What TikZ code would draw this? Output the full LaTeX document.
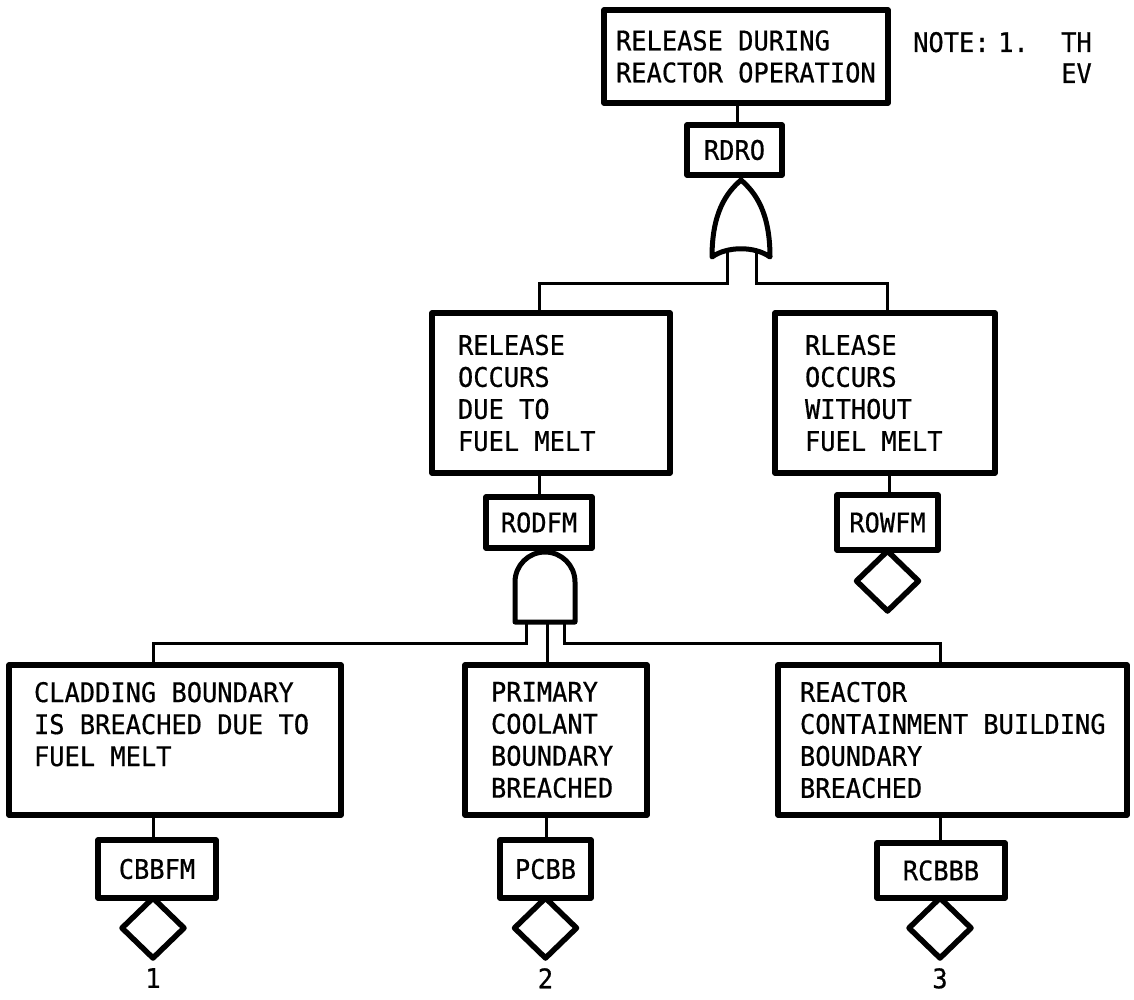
\documentclass[tikz,border=0pt]{standalone}
\usepackage{fontspec}
\usetikzlibrary{shapes.geometric}
\newfontfamily\ftfont[FakeStretch=0.94,FakeBold=0.6]{DejaVu Sans Mono}
\newcommand{\ftlabel}{\ftfont\fontsize{27}{32}\selectfont}
\newcommand{\mspc}{\kern15.3pt\relax}
\begin{document}
\begin{tikzpicture}[x=1pt,y=-1pt,
  evbox/.style={draw, line width=5.5pt, rectangle, outer sep=0pt, inner ysep=2pt,
    align=left, font=\ftlabel, anchor=north west, line join=round},
  idbox/.style={draw, line width=5.5pt, rectangle, outer sep=0pt, inner sep=0pt,
    font=\ftlabel, anchor=north west, line join=round},
  conn/.style={line width=3pt},
  gate/.style={draw, line width=5pt, line join=round, fill=white},
  dia/.style={draw, diamond, line width=5.5pt, inner sep=0pt, outer sep=0pt,
    minimum width=62pt, minimum height=60pt, anchor=north, line join=round},
  num/.style={font=\ftlabel, inner sep=0pt},
]
\useasboundingbox[fill=white] (0,0) rectangle (1134,1000);

% top event
\node[evbox, minimum width=284pt, minimum height=93pt, inner xsep=12pt, text width=260pt]
  (topE) at (604,10) {RELEASE\mspc DURING\\REACTOR\mspc OPERATION};
\node[num, anchor=base west] (note) at (913,52) {NOTE:};
\node[num, anchor=base west] (note1) at (998,52) {1.};
\node[num, anchor=base west] (noteTH) at (1061,52) {TH};
\node[num, anchor=base west] (noteEV) at (1061,83) {EV};

\node[idbox, minimum width=95pt, minimum height=50pt] (rdro) at (687,125) {RDRO};

% middle events
\node[evbox, minimum width=238pt, minimum height=160pt, inner xsep=26pt, text width=186pt]
  (rodfmE) at (432,313) {RELEASE\\OCCURS\\DUE\mspc TO\\FUEL\mspc MELT};
\node[evbox, minimum width=220pt, minimum height=160pt, inner xsep=30pt, text width=160pt]
  (rowfmE) at (775,313) {RLEASE\\OCCURS\\WITHOUT\\FUEL\mspc MELT};

\node[idbox, minimum width=106pt, minimum height=51pt] (rodfm) at (486,497) {RODFM};
\node[idbox, minimum width=101pt, minimum height=55pt] (rowfm) at (837,495) {ROWFM};

% bottom events
\node[evbox, minimum width=332pt, minimum height=150pt, inner xsep=25pt, text width=282pt]
  (cbbfmE) at (9,665) {CLADDING\mspc BOUNDARY\\IS\mspc BREACHED\mspc DUE\mspc TO\\FUEL\mspc MELT\\\mbox{}};
\node[evbox, minimum width=182pt, minimum height=150pt, inner xsep=26pt, text width=130pt]
  (pcbbE) at (465,665) {PRIMARY\\COOLANT\\BOUNDARY\\BREACHED};
\node[evbox, minimum width=349pt, minimum height=150pt, inner xsep=22pt, text width=305pt]
  (rcbbbE) at (778,665) {REACTOR\\CONTAINMENT\mspc BUILDING\\BOUNDARY\\BREACHED};

\node[idbox, minimum width=118pt, minimum height=58pt] (cbbfm) at (98,840) {CBBFM};
\node[idbox, minimum width=91pt, minimum height=58pt] (pcbb) at (500,840) {PCBB};
\node[idbox, minimum width=128pt, minimum height=55pt] (rcbbb) at (877,843) {RCBBB};

% diamonds and numbers
\node[dia] (d0) at ([yshift=-1pt]rowfm.south) {};
\node[dia] (d1) at ([xshift=-4pt]cbbfm.south) {};
\node[dia] (d2) at (pcbb.south) {};
\node[dia] (d3) at ([xshift=-1pt]rcbbb.south) {};
\node[num, anchor=north] (n1) at ([yshift=-10pt]d1.south) {1};
\node[num, anchor=north] (n2) at ([yshift=-10pt]d2.south) {2};
\node[num, anchor=north] (n3) at ([yshift=-10pt]d3.south) {3};

% connectors to id boxes
\draw[conn] ([xshift=3pt]rdro.north) -- ([xshift=3pt]rdro.north |- topE.south);
\draw[conn] (rodfm.north) -- (rodfm.north |- rodfmE.south);
\draw[conn] ([xshift=2pt]rowfm.north) -- ([xshift=2pt]rowfm.north |- rowfmE.south);
\draw[conn] ([xshift=-4pt]cbbfm.north) -- ([xshift=-4pt]cbbfm.north |- cbbfmE.south);
\draw[conn] ([xshift=1pt]pcbb.north) -- ([xshift=1pt]pcbb.north |- pcbbE.south);
\draw[conn] ([xshift=-1pt]rcbbb.north) -- ([xshift=-1pt]rcbbb.north |- rcbbbE.south);

% OR gate
\coordinate (org) at (741,257);
\coordinate (orbus) at (0,283);
\draw[conn] ([shift={(-14,-8)}]org) |- (orbus -| rodfm) -- (rodfm |- rodfmE.north);
\draw[conn] ([shift={(15,-8)}]org) |- (orbus -| rowfm) -- (rowfm |- rowfmE.north);
\draw[gate] ([shift={(-29,0)}]org)
  .. controls ([shift={(-29,-44)}]org) and ([shift={(-15,-64)}]org) .. ([shift={(0,-77)}]org)
  .. controls ([shift={(15,-64)}]org) and ([shift={(29,-44)}]org) .. ([shift={(29,0)}]org)
  .. controls ([shift={(14,-11)}]org) and ([shift={(-14,-11)}]org) .. cycle;

% AND gate
\coordinate (andg) at (545,622);
\coordinate (andbus) at (0,643);
\draw[conn] ([shift={(-19,0)}]andg) |- (andbus -| d1) -- (d1 |- cbbfmE.north);
\draw[conn] ([shift={(2,0)}]andg) -- ([shift={(2,0)}]andg |- pcbbE.north);
\draw[conn] ([shift={(19,0)}]andg) |- (andbus -| d3) -- (d3 |- rcbbbE.north);
\draw[gate] ([shift={(-30,0)}]andg) -- ([shift={(-30,-40)}]andg)
  arc[start angle=180, end angle=0, radius=30pt] -- ([shift={(30,0)}]andg) -- cycle;
\end{tikzpicture}
\end{document}
